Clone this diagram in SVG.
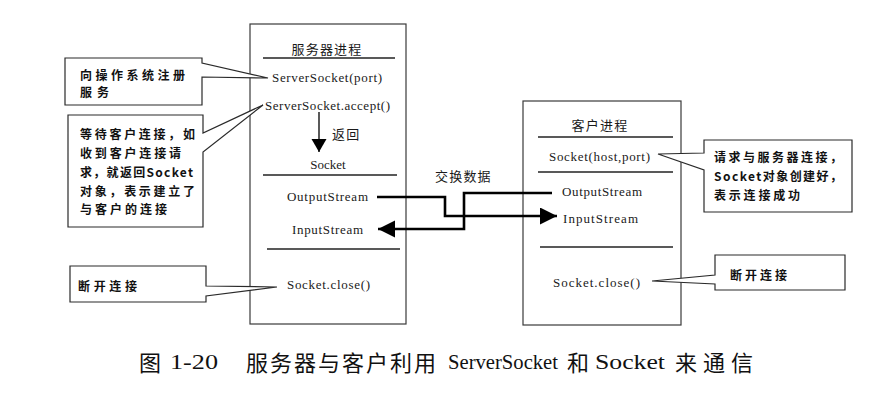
<svg xmlns="http://www.w3.org/2000/svg" width="888" height="406" viewBox="0 0 888 406">
<defs>
<style>
.box{fill:#fff;stroke:#3a3a3a;stroke-width:1.2}
.sep{stroke:#222;stroke-width:1.3;fill:none}
.call{fill:#fff;stroke:#2a2a2a;stroke-width:1.2;stroke-linejoin:miter}
.lat{font-family:"Liberation Serif","Noto Sans CJK SC",serif;font-size:13px;fill:#1a1a1a;dominant-baseline:central}
.ttl{font-family:"Noto Sans CJK SC",sans-serif;font-size:13px;fill:#1a1a1a;letter-spacing:1.2px;dominant-baseline:central}
.cj{font-family:"Noto Sans CJK SC",sans-serif;font-size:12px;font-weight:bold;fill:#111;dominant-baseline:central}
.cap{font-size:22px;fill:#111;dominant-baseline:central}
.capc{font-family:"Noto Sans CJK SC",sans-serif}
.capl{font-family:"Liberation Serif",serif}
.conn{fill:none;stroke:#000;stroke-width:2.6;stroke-linejoin:miter}
.thin{fill:none;stroke:#000;stroke-width:1.3}
</style>
<marker id="big" markerUnits="userSpaceOnUse" markerWidth="18" markerHeight="18" refX="17" refY="8.5" orient="auto">
<path d="M0,0 L17,8.5 L0,17 Z" fill="#000"/>
</marker>
<marker id="mid" markerUnits="userSpaceOnUse" markerWidth="16" markerHeight="16" refX="13" refY="7.5" orient="auto">
<path d="M0,0 L13,7.5 L0,15 Z" fill="#000"/>
</marker>
</defs>
<rect width="888" height="406" fill="#fff"/>

<g id="server">
<rect class="box" x="250" y="24" width="156" height="300"/>
<text class="ttl" x="327" y="48" text-anchor="middle">服务器进程</text>
<line class="sep" x1="263" y1="58" x2="395" y2="58"/>
<text class="lat" x="272" y="77" textLength="110">ServerSocket(port)</text>
<text class="lat" x="265" y="105" textLength="125">ServerSocket.accept()</text>
<text class="ttl" x="332" y="133">返回</text>
<text class="lat" x="328" y="164" text-anchor="middle">Socket</text>
<line class="sep" x1="263" y1="175" x2="397" y2="175"/>
<text class="lat" x="287" y="196" textLength="81">OutputStream</text>
<text class="lat" x="292" y="229" textLength="71">InputStream</text>
<line class="sep" x1="267" y1="249" x2="400" y2="249"/>
<text class="lat" x="287" y="284" textLength="83">Socket.close()</text>
</g>

<g id="client">
<rect class="box" x="523" y="101" width="158" height="224"/>
<text class="ttl" x="600" y="124" text-anchor="middle">客户进程</text>
<line class="sep" x1="538" y1="137" x2="673" y2="137"/>
<text class="lat" x="549" y="156" textLength="101">Socket(host,port)</text>
<line class="sep" x1="538" y1="172" x2="673" y2="172"/>
<text class="lat" x="562" y="191" textLength="80">OutputStream</text>
<text class="lat" x="563" y="218" textLength="75">InputStream</text>
<line class="sep" x1="540" y1="247" x2="673" y2="247"/>
<text class="lat" x="553" y="282" textLength="87">Socket.close()</text>
</g>

<g id="note-register">
<path class="call" d="M65,58 H202 V63 L268,78 L202,77 V105 H65 Z"/>
<text class="cj" x="80" y="74" textLength="105">向操作系统注册</text>
<text class="cj" x="80" y="91" textLength="29">服务</text>
</g>

<g id="note-accept">
<path class="call" d="M68,115 H203 V133 L263,105 L203,152 V227 H68 Z"/>
<text class="cj" x="80" y="133" textLength="115">等待客户连接，如</text>
<text class="cj" x="80" y="152" textLength="101">收到客户连接请</text>
<text class="cj" x="80" y="171" textLength="113">求，就返回Socket</text>
<text class="cj" x="80" y="190" textLength="115">对象，表示建立了</text>
<text class="cj" x="80" y="208" textLength="87">与客户的连接</text>
</g>

<g id="note-server-close">
<path class="call" d="M70,266 H206 V286 L277,287 L206,296 V302 H70 Z"/>
<text class="cj" x="78" y="285" textLength="59">断开连接</text>
</g>

<g id="note-connect">
<path class="call" d="M704,140 H852 V212 H704 V170 L658,154 L704,153 Z"/>
<text class="cj" x="714" y="156" textLength="128">请求与服务器连接，</text>
<text class="cj" x="714" y="175" textLength="128">Socket对象创建好，</text>
<text class="cj" x="714" y="194" textLength="86">表示连接成功</text>
</g>

<g id="note-client-close">
<path class="call" d="M715,255 H845 V290 H715 V284 L652,281 L715,275 Z"/>
<text class="cj" x="730" y="274" textLength="57">断开连接</text>
</g>

<g id="connectors">
<path class="thin" d="M319,112 V152" marker-end="url(#mid)"/>
<path class="conn" d="M377,197 H445 V216 H557" marker-end="url(#big)"/>
<path class="conn" d="M552,193 H464 V229 H378" marker-end="url(#big)"/>
<text class="ttl" x="435" y="175">交换数据</text>
</g>

<g id="caption">
<text class="cap capc" x="139" y="361">图</text>
<text class="cap capl" x="170" y="361" textLength="48" lengthAdjust="spacingAndGlyphs">1-20</text>
<text class="cap capc" x="246" y="361" textLength="190">服务器与客户利用</text>
<text class="cap capl" x="448" y="361" textLength="110" lengthAdjust="spacingAndGlyphs">ServerSocket</text>
<text class="cap capc" x="567" y="361">和</text>
<text class="cap capl" x="595" y="361" textLength="70" lengthAdjust="spacingAndGlyphs">Socket</text>
<text class="cap capc" x="675" y="361" textLength="78">来通信</text>
</g>
</svg>
